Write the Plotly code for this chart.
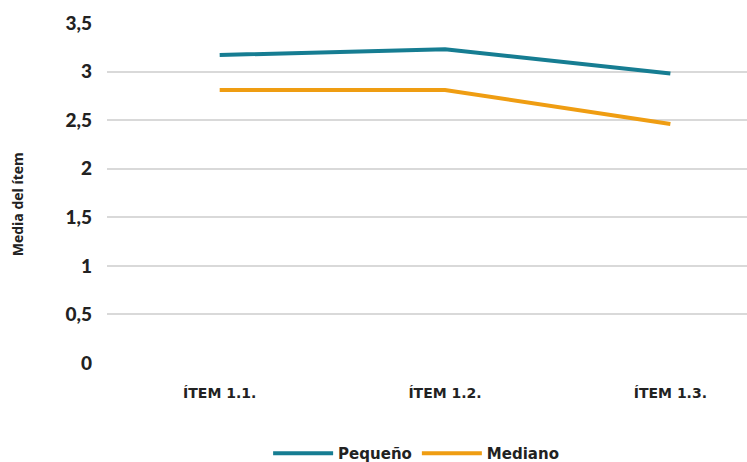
import plotly.graph_objects as go

categories = ["ÍTEM 1.1.", "ÍTEM 1.2.", "ÍTEM 1.3."]
pequeno = [3.17, 3.23, 2.98]
mediano = [2.81, 2.81, 2.46]
y_ticks = [0, 0.5, 1, 1.5, 2, 2.5, 3, 3.5]
y_tick_text = ["0", "0,5", "1", "1,5", "2", "2,5", "3", "3,5"]

fig = go.Figure()
fig.add_trace(go.Scatter(x=categories, y=pequeno, mode="lines", name="Pequeño",
                         line=dict(color="#167d92", width=4)))
fig.add_trace(go.Scatter(x=categories, y=mediano, mode="lines", name="Mediano",
                         line=dict(color="#ef9d12", width=4)))

fig.update_layout(
    width=747, height=462,
    margin=dict(l=107, r=0, t=23, b=99, autoexpand=False),
    paper_bgcolor="white", plot_bgcolor="white",
    font=dict(family="Open Sans", color="#222222"),
    legend=dict(orientation="h", x=0.483, y=-0.266, xanchor="center", yanchor="middle",
                font=dict(family="DejaVu Sans", size=15, color="#222222", weight="bold"),
                itemwidth=60, tracegroupgap=0),
    xaxis=dict(type="category", range=[-0.5, 2.34], showgrid=False, zeroline=False,
               showline=False, ticks="", ticklabelstandoff=20, automargin=False,
               tickfont=dict(family="DejaVu Sans", size=14, color="#222222", weight="bold")),
    yaxis=dict(range=[0, 3.5], tickvals=y_ticks, ticktext=y_tick_text, automargin=False,
               showgrid=True, gridcolor="#d9d9d9", gridwidth=1.5, zeroline=False,
               showline=False, ticks="", ticklabelstandoff=14,
               tickfont=dict(family="Lato", size=19, color="#222222", weight=900)),
    annotations=[dict(text="Media del ítem", xref="paper", yref="paper",
                      x=-0.14, y=0.468, textangle=-90, showarrow=False,
                      xanchor="center", yanchor="middle",
                      font=dict(family="Open Sans", size=14, color="#222222", weight="bold"))],
)

fig.write_html("out.html", config={"displayModeBar": False},
               post_script="document.body.style.margin='0';document.body.style.overflow='hidden';")
